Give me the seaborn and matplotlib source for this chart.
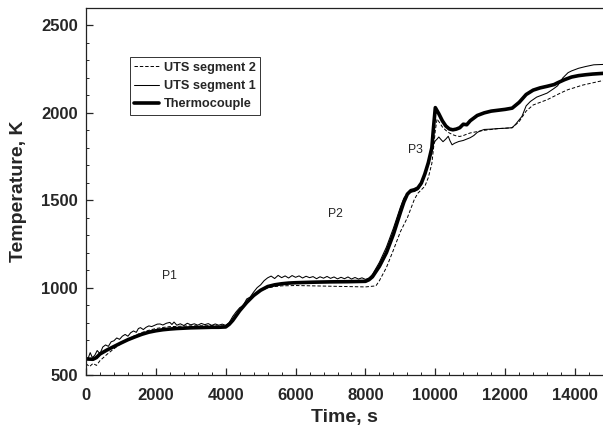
import matplotlib
matplotlib.use("Agg")
import matplotlib.pyplot as plt
import seaborn as sns
import pandas as pd
from matplotlib.ticker import MultipleLocator

# ---------------- data ----------------
tc_time = [0, 200, 300, 400, 600, 800, 1000, 1200, 1400, 1600, 1800, 2000, 2200, 2400, 2600,
           2800, 3000, 3200, 3400, 3600, 3800, 4000, 4100, 4200, 4400, 4600, 4800, 5000, 5200,
           5400, 5600, 5800, 6000, 6500, 7000, 7500, 8000, 8100, 8200, 8400, 8600, 8800, 9000,
           9100, 9200, 9300, 9400, 9500, 9600, 9700, 9800, 9900, 9950, 10000, 10100, 10200,
           10300, 10400, 10500, 10600, 10700, 10800, 10900, 11000, 11200, 11400, 11600, 11800,
           12000, 12200, 12400, 12600, 12800, 13000, 13200, 13400, 13500, 13700, 13900, 14100,
           14300, 14500, 14800]
tc_temp = [592, 590, 600, 620, 643, 663, 683, 702, 718, 733, 745, 753, 759, 763, 766,
           768, 770, 771, 772, 773, 773, 775, 790, 812, 868, 915, 955, 985, 1006,
           1016, 1022, 1026, 1028, 1031, 1033, 1034, 1036, 1045, 1062, 1122, 1200, 1305, 1430,
           1490, 1535, 1555, 1560, 1570, 1598, 1650, 1715, 1800, 1920, 2030, 1995, 1955,
           1925, 1908, 1903, 1907, 1915, 1935, 1932, 1955, 1985, 2000, 2010, 2015,
           2020, 2027, 2060, 2105, 2130, 2143, 2152, 2162, 2172, 2190, 2205, 2213,
           2218, 2222, 2226]

uts1_time = [0, 60, 120, 180, 250, 320, 400, 480, 560, 640, 720, 800, 880, 960, 1040, 1120,
             1200, 1280, 1360, 1440, 1500, 1560, 1640, 1720, 1800, 1880, 1960, 2040, 2120,
             2200, 2300, 2400, 2460, 2520, 2600, 2700, 2800, 2900, 3000, 3100, 3200, 3300,
             3400, 3500, 3600, 3700, 3800, 3900, 4000, 4100, 4200, 4300, 4400, 4500, 4600,
             4700, 4800, 4900, 5000, 5100, 5200, 5300, 5400, 5500, 5600, 5700, 5800, 5900,
             6000, 6100, 6200, 6300, 6400, 6500, 6600, 6700, 6800, 6900, 7000, 7100, 7200,
             7300, 7400, 7500, 7600, 7700, 7800, 7900, 8000, 8100, 8200, 8400, 8600, 8800,
             9000, 9100, 9200, 9300, 9400, 9500, 9600, 9700, 9800, 9900, 9950, 10000, 10050,
             10100, 10150, 10220, 10300, 10370, 10420, 10480, 10550, 10670, 10800, 10900,
             11000, 11100, 11200, 11300, 11400, 11600, 11800, 12000, 12200, 12300, 12480,
             12600, 12720, 12900, 13200, 13400, 13500, 13650, 13800, 13900, 14100, 14300,
             14536, 14800]
uts1_temp = [600, 595, 628, 600, 612, 640, 622, 660, 672, 664, 690, 696, 712, 704, 722, 732,
             722, 742, 752, 744, 766, 771, 760, 773, 781, 777, 784, 791, 792,
             786, 796, 801, 789, 803, 785, 793, 783, 796, 787, 793, 785, 795,
             788, 794, 784, 792, 785, 791, 784, 800, 835, 862, 885, 897, 935,
             946, 975, 1000, 1016, 1040, 1056, 1066, 1052, 1070, 1057, 1067, 1055, 1069,
             1059, 1067, 1055, 1065, 1057, 1063, 1051, 1062, 1054, 1064, 1053, 1061, 1050,
             1059, 1051, 1061, 1049, 1058, 1049, 1056, 1047, 1055, 1075, 1145, 1232, 1340,
             1460, 1512, 1538, 1546, 1550, 1560, 1590, 1650, 1710, 1780, 1820, 1840, 1850,
             1862, 1850, 1835, 1850, 1866, 1840, 1817, 1826, 1836, 1842, 1850,
             1858, 1870, 1888, 1898, 1905, 1907, 1910, 1912, 1915, 1935, 1980,
             2040, 2065, 2090, 2113, 2140, 2155, 2200, 2230, 2240, 2255, 2265,
             2275, 2277]

uts2_time = [0, 100, 200, 300, 400, 500, 600, 800, 1000, 1200, 1400, 1600, 1800, 2000, 2200,
             2400, 2600, 2800, 3000, 3200, 3400, 3600, 3800, 4000, 4100, 4200, 4400, 4600,
             4800, 5000, 5200, 5400, 5600, 6000, 6500, 7000, 7500, 8000, 8200, 8300, 8400,
             8600, 8800, 9000, 9200, 9400, 9500, 9600, 9700, 9800, 9900, 9950, 10000, 10050,
             10100, 10200, 10300, 10400, 10500, 10600, 10700, 10800, 10900, 11000, 11200,
             11400, 11600, 11800, 12000, 12200, 12400, 12600, 12800, 13000, 13200, 13400,
             13600, 13800, 14000, 14200, 14400, 14600, 14800]
uts2_temp = [565, 548, 566, 555, 582, 600, 618, 650, 680, 705, 726, 743, 756, 766, 772,
             777, 778, 780, 781, 782, 781, 783, 780, 782, 795, 818, 872, 918,
             958, 984, 998, 1006, 1010, 1012, 1010, 1008, 1006, 1004, 1008, 1010, 1040,
             1115, 1215, 1320, 1400, 1505, 1540, 1560, 1580, 1630, 1710, 1800, 1900, 1965,
             1950, 1920, 1900, 1885, 1875, 1868, 1865, 1870, 1878, 1885, 1893,
             1900, 1905, 1910, 1912, 1915, 1950, 2010, 2045, 2060, 2075, 2095,
             2115, 2133, 2145, 2158, 2167, 2176, 2185]

series_labels = ["UTS segment 2", "UTS segment 1", "Thermocouple"]
x_ticks = [0, 2000, 4000, 6000, 8000, 10000, 12000, 14000]
y_ticks = [500, 1000, 1500, 2000, 2500]
annotations = [("P1", 2400, 1065), ("P2", 7150, 1420), ("P3", 9420, 1790)]

# ---------------- plot ----------------
sns.set_style("ticks")
plt.rcParams["font.family"] = ["Liberation Sans", "DejaVu Sans"]

fig = plt.figure(figsize=(6.03, 4.28), dpi=100)
ax = fig.add_axes([86 / 603, 1 - 375 / 428, 1 - 86 / 603, (375 - 8) / 428])

d2 = pd.DataFrame({"t": uts2_time, "T": uts2_temp})
d1 = pd.DataFrame({"t": uts1_time, "T": uts1_temp})
dt = pd.DataFrame({"t": tc_time, "T": tc_temp})

sns.lineplot(data=d2, x="t", y="T", ax=ax, color="black", lw=0.7,
             label=series_labels[0], linestyle=(0, (3.5, 2)))
sns.lineplot(data=d1, x="t", y="T", ax=ax, color="black", lw=0.75,
             label=series_labels[1])
sns.lineplot(data=dt, x="t", y="T", ax=ax, color="black", lw=2.6,
             label=series_labels[2])

ax.set_xlim(0, 14800)
ax.set_ylim(500, 2600)
ax.set_xticks(x_ticks)
ax.set_yticks(y_ticks)
ax.xaxis.set_minor_locator(MultipleLocator(400))
ax.yaxis.set_minor_locator(MultipleLocator(100))
ax.tick_params(which="major", direction="in", length=5, width=0.9,
               labelsize=12, top=False, right=False)
ax.tick_params(axis="x", which="major", pad=9)
ax.tick_params(axis="y", which="major", pad=6)
ax.tick_params(which="minor", direction="in", length=2.5, width=0.7,
               top=False, right=False)
for lab in ax.get_xticklabels() + ax.get_yticklabels():
    lab.set_fontweight("bold")

for side in ["left", "bottom", "top"]:
    ax.spines[side].set_linewidth(0.9)
    ax.spines[side].set_color("#222222")
ax.spines["right"].set_visible(False)

ax.set_xlabel("Time, s", fontsize=14, fontweight="bold", labelpad=5)
ax.set_ylabel("Temperature, K", fontsize=14, fontweight="bold", labelpad=10)

for txt, xx, yy in annotations:
    ax.text(xx, yy, txt, fontsize=8.8, ha="center", va="center")

leg = ax.legend(loc="upper left", bbox_to_anchor=(0.085, 0.866), borderaxespad=0,
                fancybox=False, framealpha=1, edgecolor="#333333",
                prop={"weight": "bold", "size": 9.2}, handlelength=1.9,
                handletextpad=0.4, labelspacing=0.5, borderpad=0.35)
leg.get_frame().set_linewidth(0.7)

fig.savefig("out.png", dpi=100)
